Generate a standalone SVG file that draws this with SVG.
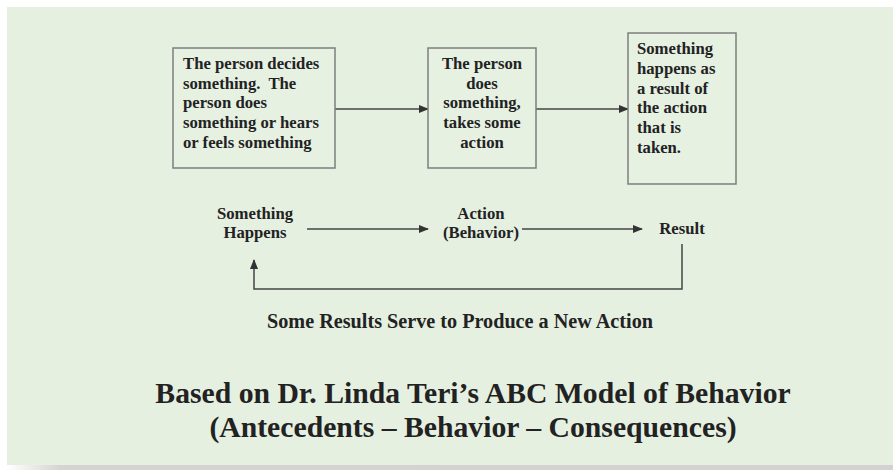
<svg xmlns="http://www.w3.org/2000/svg" width="893" height="470" viewBox="0 0 893 470">
  <style>
    text { font-family: "Liberation Serif", "Times New Roman", serif; font-weight: bold; fill: #222; }
    .box { fill: #e6f1e2; stroke: #7d7d7d; stroke-width: 1.5; }
    .t { font-size: 16.7px; }
    .lbl { font-size: 16.7px; text-anchor: middle; }
    .conn { stroke: #444; stroke-width: 1.5; fill: none; }
  </style>
  <defs>
    <marker id="arr" markerWidth="10" markerHeight="8" refX="9" refY="4" orient="auto" markerUnits="userSpaceOnUse">
      <path d="M0,0 L10,4 L0,8 Z" fill="#333"/>
    </marker>
    <linearGradient id="shadow" x1="0" y1="0" x2="1" y2="0">
      <stop offset="0" stop-color="#ffffff"/>
      <stop offset="0.06" stop-color="#d4d4d4"/>
      <stop offset="1" stop-color="#d2d2d2"/>
    </linearGradient>
  </defs>
  <rect x="0" y="0" width="893" height="470" fill="#ffffff"/>
  <rect x="7" y="465" width="886" height="5" fill="url(#shadow)"/>
  <rect x="7" y="7" width="886" height="458" fill="#e5f0e1"/>

  <g id="connectors">
    <line class="conn" x1="335" y1="109" x2="428" y2="109" marker-end="url(#arr)"/>
    <line class="conn" x1="536" y1="109" x2="628" y2="109" marker-end="url(#arr)"/>
    <line class="conn" x1="307" y1="229" x2="428" y2="229" marker-end="url(#arr)"/>
    <line class="conn" x1="522" y1="229" x2="642" y2="229" marker-end="url(#arr)"/>
    <polyline class="conn" points="682,244 682,289 254,289 254,260" marker-end="url(#arr)"/>
  </g>

  <g id="box1">
    <rect class="box" x="173" y="48" width="162" height="120"/>
    <text class="t" x="183" y="69">The person decides</text>
    <text class="t" x="183" y="89" xml:space="preserve">something.  The</text>
    <text class="t" x="183" y="108">person does</text>
    <text class="t" x="183" y="128">something or hears</text>
    <text class="t" x="183" y="148">or feels something</text>
  </g>

  <g id="box2">
    <rect class="box" x="428" y="48" width="108" height="120"/>
    <text class="lbl" x="482" y="69">The person</text>
    <text class="lbl" x="482" y="89">does</text>
    <text class="lbl" x="482" y="108">something,</text>
    <text class="lbl" x="482" y="128">takes some</text>
    <text class="lbl" x="482" y="148">action</text>
  </g>

  <g id="box3">
    <rect class="box" x="628" y="33" width="108" height="151"/>
    <text class="t" x="637" y="54">Something</text>
    <text class="t" x="637" y="74">happens as</text>
    <text class="t" x="637" y="94">a result of</text>
    <text class="t" x="637" y="113">the action</text>
    <text class="t" x="637" y="133">that is</text>
    <text class="t" x="637" y="153">taken.</text>
  </g>

  <g id="something-happens">
    <text class="lbl" x="255" y="219">Something</text>
    <text class="lbl" x="255" y="238">Happens</text>
  </g>

  <g id="action">
    <text class="lbl" x="481" y="219">Action</text>
    <text class="lbl" x="481" y="238">(Behavior)</text>
  </g>

  <g id="result">
    <text class="lbl" x="682" y="234">Result</text>
  </g>

  <g id="feedback-label">
    <text x="460" y="328" text-anchor="middle" font-size="20.2">Some Results Serve to Produce a New Action</text>
  </g>

  <g id="title">
    <text x="473" y="403" text-anchor="middle" font-size="29.7">Based on Dr. Linda Teri’s ABC Model of Behavior</text>
    <text x="473" y="437" text-anchor="middle" font-size="29.7">(Antecedents – Behavior – Consequences)</text>
  </g>
</svg>
